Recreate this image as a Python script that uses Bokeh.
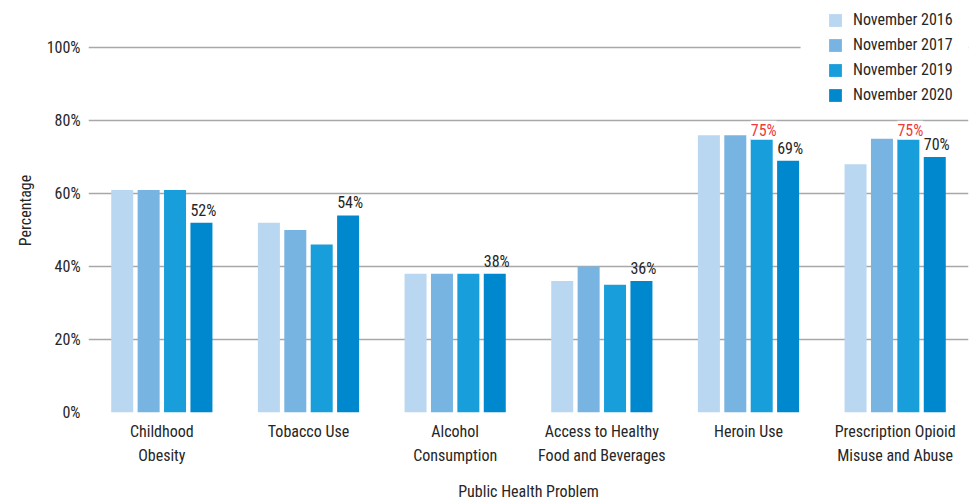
from bokeh.plotting import figure
from bokeh.models import (ColumnDataSource, FactorRange, LabelSet, Legend, LegendItem,
                          FixedTicker, PrintfTickFormatter, Range1d, BoxAnnotation)
from bokeh.core.properties import value
from bokeh.transform import dodge
from bokeh.embed import file_html
from bokeh.resources import INLINE

categories = ["Childhood\nObesity", "Tobacco Use", "Alcohol\nConsumption",
              "Access to Healthy\nFood and Beverages", "Heroin Use",
              "Prescription Opioid\nMisuse and Abuse"]
series_names = ["November 2016", "November 2017", "November 2019", "November 2020"]
nov_2016 = [61, 52, 38, 36, 76, 68]
nov_2017 = [61, 50, 38, 40, 76, 75]
nov_2019 = [61, 46, 38, 35, 75, 75]
nov_2020 = [52, 54, 38, 36, 69, 70]
y_ticks = [0, 20, 40, 60, 80, 100]
highlight_idx = [4, 5]  # categories whose Nov 2019 value is labelled in red

FONT = "'Roboto Condensed', 'DejaVu Sans Condensed', 'Liberation Sans Narrow', Roboto, sans-serif"
TEXT = "#262626"
colors = ["#B9D7F0", "#78B4E2", "#189EDA", "#0088CE"]
offsets = [-0.27, -0.09, 0.09, 0.27]

src = ColumnDataSource(dict(cat=categories, s2016=nov_2016, s2017=nov_2017,
                            s2019=nov_2019, s2020=nov_2020))

p = figure(width=978, height=504, x_range=FactorRange(*categories, range_padding=0),
           y_range=Range1d(0, 110.7), output_backend="svg", toolbar_location=None,
           min_border_left=88, min_border_right=10, min_border_top=8, min_border_bottom=92)
p.outline_line_color = None
p.background_fill_color = "white"
p.border_fill_color = "white"

renderers = []
for col, c, off in zip(["s2016", "s2017", "s2019", "s2020"], colors, offsets):
    r = p.vbar(x=dodge("cat", off, range=p.x_range), top=col, width=0.15, source=src,
               fill_color=c, line_color=None)
    renderers.append(r)

# data labels
dark_src = ColumnDataSource(dict(cat=categories, v=nov_2020, t=[f"{v}%" for v in nov_2020]))
red_src = ColumnDataSource(dict(cat=[categories[i] for i in highlight_idx],
                                v=[nov_2019[i] for i in highlight_idx],
                                t=[f"{nov_2019[i]}%" for i in highlight_idx]))
p.add_layout(LabelSet(x=dodge("cat", offsets[3], range=p.x_range), y="v", text="t",
                      source=dark_src, text_align="center", text_baseline="alphabetic",
                      x_offset=2, y_offset=7, text_font=value(FONT), text_font_size=value("16px"),
                      text_color=TEXT))
p.add_layout(LabelSet(x=dodge("cat", offsets[2], range=p.x_range), y="v", text="t",
                      source=red_src, text_align="center", text_baseline="alphabetic",
                      x_offset=2, y_offset=3, text_font=value(FONT), text_font_size=value("16px"),
                      text_color="#EE3B3B", background_fill_color="white"))

# axes
p.xgrid.grid_line_color = None
p.ygrid.grid_line_color = "#a8a8a8"
p.ygrid.grid_line_width = 1.5
p.ygrid.ticker = FixedTicker(ticks=y_ticks)
p.yaxis.ticker = FixedTicker(ticks=y_ticks)
p.yaxis.formatter = PrintfTickFormatter(format="%d%%")
for ax in (p.xaxis[0], p.yaxis[0]):
    ax.axis_line_color = None
    ax.major_tick_line_color = None
    ax.minor_tick_line_color = None
    ax.major_tick_out = 0
    ax.major_label_text_font = FONT
    ax.major_label_text_font_size = "16px"
    ax.major_label_text_color = TEXT
    ax.axis_label_text_font = FONT
    ax.axis_label_text_font_size = "16px"
    ax.axis_label_text_font_style = "normal"
    ax.axis_label_text_color = TEXT
p.yaxis.axis_label = "Percentage"
p.yaxis.major_label_standoff = 8
p.yaxis.axis_label_standoff = 9
p.xaxis.axis_label = "Public Health Problem"
p.xaxis.major_label_standoff = 9
p.xaxis.major_label_text_line_height = 1.28
p.xaxis.axis_label_standoff = 14

# white backing behind the legend (hides the top gridline there, as in the original)
p.add_layout(BoxAnnotation(left=4.855, right=6, bottom=98, top=112, fill_color="white",
                           fill_alpha=1.0, line_color=None))

legend = Legend(items=[LegendItem(label=n, renderers=[r]) for n, r in zip(series_names, renderers)],
                location=(739, 308), orientation="vertical", padding=2, margin=0, spacing=6,
                glyph_width=16, glyph_height=16, label_height=16, label_standoff=10,
                label_text_font=FONT, label_text_font_size="16px", label_text_color=TEXT,
                background_fill_color="white", background_fill_alpha=1.0,
                border_line_color=None)
p.add_layout(legend)

open("out.html", "w").write(file_html(p, INLINE))
